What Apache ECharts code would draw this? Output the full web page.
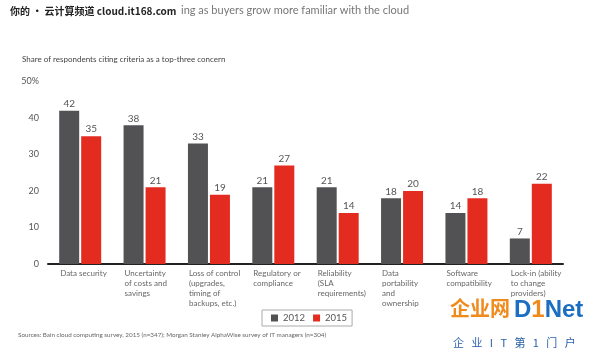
<!DOCTYPE html>
<html><head><meta charset="utf-8">
<script src="https://cdn.jsdelivr.net/npm/echarts@6/dist/echarts.min.js"></script>
<style>html,body{margin:0;padding:0;background:#fff}#c{width:600px;height:358px}</style>
</head><body><div id="c"></div>
<script>
const categories = [
  "Data security",
  "Uncertainty\nof costs and\nsavings",
  "Loss of control\n(upgrades,\ntiming of\nbackups, etc.)",
  "Regulatory or\ncompliance",
  "Reliability\n(SLA\nrequirements)",
  "Data\nportability\nand\nownership",
  "Software\ncompatibility",
  "Lock-in (ability\nto change\nproviders)"
];
const values2012 = [42, 38, 33, 21, 21, 18, 14, 7];
const values2015 = [35, 21, 19, 27, 14, 20, 18, 22];
const seriesNames = ["2012", "2015"];
const yTicks = [0, 10, 20, 30, 40, 50];

const FONT = 'Lato, "Noto Sans", sans-serif';
const chart = echarts.init(document.getElementById('c'), null, {renderer: 'canvas'});
const labelStyle = {show: true, position: 'top', distance: 2, color: '#555', fontSize: 10, fontFamily: FONT};
chart.setOption({
  animation: false,
  backgroundColor: '#fff',
  textStyle: {fontFamily: FONT},
  grid: {left: 48, right: 37, top: 81.5, bottom: 94, containLabel: false},
  legend: {
    data: seriesNames, left: 262, top: 310, itemWidth: 7, itemHeight: 7, itemGap: 8,
    icon: 'rect', borderColor: '#aaa', borderWidth: 1, borderRadius: 0,
    padding: [3, 5, 3, 9],
    textStyle: {color: '#555', fontSize: 9.5, fontFamily: FONT}
  },
  xAxis: {
    type: 'category', data: categories,
    axisLine: {show: true, lineStyle: {color: '#222', width: 2}},
    axisTick: {show: false},
    axisLabel: {interval: 0, align: 'left', padding: [0, 0, 0, -20], margin: 5,
      color: '#666', fontSize: 8, lineHeight: 9.8, fontFamily: FONT, verticalAlign: 'top'}
  },
  yAxis: {
    type: 'value', min: yTicks[0], max: yTicks[yTicks.length - 1], interval: 10,
    splitLine: {show: false}, axisLine: {show: false}, axisTick: {show: false},
    axisLabel: {margin: 9, color: '#555', fontSize: 9, fontFamily: FONT,
      formatter: v => v === 50 ? v + '%' : String(v)}
  },
  series: [
    {name: seriesNames[0], type: 'bar', data: values2012, barWidth: 20, barGap: '10%',
      itemStyle: {color: '#525254'}, label: labelStyle},
    {name: seriesNames[1], type: 'bar', data: values2015, barWidth: 20,
      itemStyle: {color: '#e42b20'}, label: labelStyle}
  ],
  graphic: [
    {type: 'text', left: 10, top: 6, style: {text: '你的 • 云计算频道 cloud.it168.com', fill: '#222', font: 'bold 10px "Noto Sans CJK SC", sans-serif'}},
    {type: 'text', left: 181, top: 5, style: {text: 'ing as buyers grow more familiar with the cloud', fill: '#777', font: '11px ' + FONT}},
    {type: 'text', left: 22, top: 55, style: {text: 'Share of respondents citing criteria as a top-three concern', fill: '#444', font: '8px ' + FONT}},
    {type: 'text', left: 18, top: 332, style: {text: 'Sources: Bain cloud computing survey, 2015 (n=347); Morgan Stanley AlphaWise survey of IT managers (n=304)', fill: '#666', font: '6.3px ' + FONT}},
    {type: 'text', left: 450, top: 298, style: {text: '企业网', fill: '#f08a1c', font: 'bold 20px "Noto Sans CJK SC", sans-serif'}},
    {type: 'text', left: 514, top: 298, style: {rich: {b: {fill: '#1c6fc0', font: 'bold 24px "Liberation Sans", sans-serif'}, o: {fill: '#f08a1c', font: 'bold 24px "Liberation Sans", sans-serif'}}, text: '{b|D}{o|1}{b|Net}'}},
    {type: 'text', left: 453, top: 337, style: {text: '企   业   I   T   第   1   门   户', fill: '#2a5fa8', font: '11px "Noto Sans CJK SC", sans-serif'}}
  ]
});
</script></body></html>
